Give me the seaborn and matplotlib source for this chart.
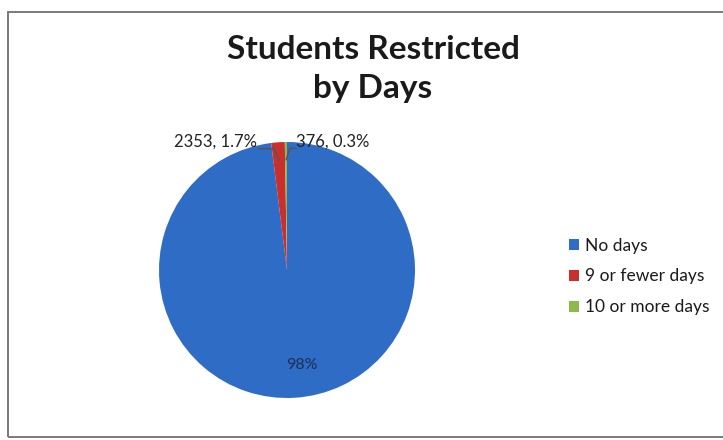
import numpy as np
import seaborn as sns
import matplotlib.pyplot as plt
from matplotlib.patches import Rectangle

categories = ["No days", "9 or fewer days", "10 or more days"]
counts = [135600, 2353, 376]
pct_labels = ["98%", "2353, 1.7%", "376, 0.3%"]
colors = ["#2f6cc6", "#c9302c", "#8db84a"]

sns.set_theme(style="white")
plt.rcParams["font.family"] = ["Lato", "DejaVu Sans"]

fig = plt.figure(figsize=(7.23, 4.4), dpi=100)
fig.patch.set_facecolor("white")

# pie area in pixels: center (287, 270), radius 128
W, H = 723, 440
cx, cy, r = 287, 270, 128
ax = fig.add_axes([(cx - r) / W, (H - cy - r) / H, 2 * r / W, 2 * r / H])
wedges, _ = ax.pie(counts, colors=colors, startangle=90, counterclock=False,
                   radius=1, wedgeprops=dict(linewidth=0))
ax.set_xlim(-1, 1)
ax.set_ylim(-1, 1)
ax.set_aspect("equal")
ax.axis("off")

# inside label for biggest slice
ax.text(0.12, -0.74, pct_labels[0], ha="center", va="center",
        fontsize=11.5, color="#1d2f55")

# outside labels with leader lines
lc = "#555555"
w = wedges[1]
ang = np.deg2rad((w.theta1 + w.theta2) / 2)
px, py = 0.86 * np.cos(ang), 0.86 * np.sin(ang)
ax.plot([px, px - 0.04, px - 0.16], [py, py + 0.09, py + 0.09],
        color=lc, lw=1, clip_on=False)
ax.text(px - 0.17, py + 0.08, pct_labels[1], ha="right", va="bottom",
        fontsize=12, color="#222222")

w = wedges[2]
ang = np.deg2rad((w.theta1 + w.theta2) / 2)
px, py = 0.86 * np.cos(ang), 0.86 * np.sin(ang)
ax.plot([px, px + 0.03, px + 0.08], [py, py + 0.09, py + 0.09],
        color=lc, lw=1, clip_on=False)
ax.text(px + 0.08, py + 0.08, pct_labels[2], ha="left", va="bottom",
        fontsize=12, color="#222222")

fig.text(373 / W, 1 - 69 / H, "Students Restricted\nby Days", ha="center",
         va="center", fontsize=24, fontweight="bold", color="#1a1a1a",
         linespacing=1.4)

leg = fig.legend(wedges, categories, loc="upper left",
                 bbox_to_anchor=(553 / W, 1 - 222 / H), frameon=False,
                 handlelength=0.6, handleheight=0.6, handletextpad=0.35,
                 labelspacing=0.85, fontsize=12.5)
for t in leg.get_texts():
    t.set_color("#1a1a1a")

fig.patches.append(Rectangle((8 / W, 3 / H), 1 - 8 / W + 0.01, 1 - 15 / H,
                             transform=fig.transFigure, fill=False,
                             edgecolor="#7a7a7a", linewidth=1.4))

fig.savefig("out.png", dpi=100)
